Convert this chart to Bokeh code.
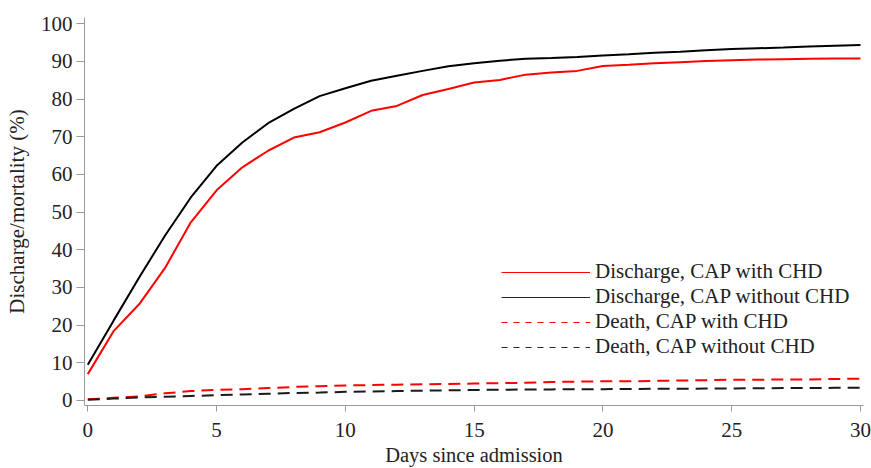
from bokeh.plotting import figure
from bokeh.models import FixedTicker, Legend, LegendItem, Range1d
from bokeh.embed import file_html
from bokeh.resources import INLINE

days = list(range(31))
discharge_chd = [7.0, 18.4, 25.6, 35.2, 47.3, 55.8, 61.9, 66.3, 69.8, 71.2, 73.8,
                 76.9, 78.2, 81.1, 82.7, 84.4, 85.1, 86.5, 87.1, 87.5, 88.8,
                 89.1, 89.5, 89.8, 90.1, 90.3, 90.5, 90.6, 90.7, 90.8, 90.8]
discharge_no_chd = [9.5, 21.2, 32.7, 43.8, 53.9, 62.3, 68.5, 73.6, 77.4, 80.8, 82.9,
                    84.9, 86.2, 87.5, 88.7, 89.5, 90.2, 90.7, 90.9, 91.2, 91.6,
                    91.9, 92.3, 92.6, 93.0, 93.3, 93.5, 93.7, 94.0, 94.2, 94.4]
death_chd = [0.3, 0.7, 1.1, 1.9, 2.5, 2.8, 3.0, 3.3, 3.6, 3.8, 4.0,
             4.1, 4.2, 4.3, 4.4, 4.5, 4.6, 4.7, 4.9, 5.0, 5.1,
             5.1, 5.2, 5.3, 5.4, 5.5, 5.5, 5.6, 5.6, 5.7, 5.8]
death_no_chd = [0.2, 0.5, 0.8, 1.0, 1.2, 1.4, 1.6, 1.8, 2.0, 2.1, 2.3,
                2.4, 2.5, 2.6, 2.7, 2.8, 2.85, 2.9, 2.95, 3.0, 3.0,
                3.05, 3.1, 3.1, 3.15, 3.2, 3.25, 3.3, 3.3, 3.35, 3.4]
legend_labels = ["Discharge, CAP with CHD", "Discharge, CAP without CHD",
                 "Death, CAP with CHD", "Death, CAP without CHD"]
x_ticks = [0, 5, 10, 15, 20, 25, 30]
y_ticks = [0, 10, 20, 30, 40, 50, 60, 70, 80, 90, 100]
x_title = "Days since admission"
y_title = "Discharge/mortality (%)"

FONT = "Liberation Serif"
TXT = "#222222"
RED = "#ff0000"
BLK = "#000000"

p = figure(width=871, height=468, output_backend="svg", toolbar_location=None,
           x_range=Range1d(-0.128, 30.116), y_range=Range1d(-1.33, 101.67),
           min_border_left=84, min_border_right=8, min_border_top=17,
           min_border_bottom=63)
p.outline_line_color = None
p.grid.visible = False
p.background_fill_color = "white"

for ax in (p.xaxis[0], p.yaxis[0]):
    ax.axis_line_color = "#9a9a9a"
    ax.major_tick_line_color = "#9a9a9a"
    ax.minor_tick_line_color = None
    ax.major_tick_in = 0
    ax.major_label_text_font = FONT
    ax.major_label_text_font_size = "21px"
    ax.major_label_text_color = TXT
    ax.axis_label_text_font = FONT
    ax.axis_label_text_font_size = "21px"
    ax.axis_label_text_font_style = "normal"
    ax.axis_label_text_color = TXT

p.xaxis.ticker = FixedTicker(ticks=x_ticks)
p.yaxis.ticker = FixedTicker(ticks=y_ticks)
p.xaxis.axis_label = x_title
p.yaxis.axis_label = y_title
p.xaxis.axis_label_text_font_size = "20.5px"
p.xaxis.major_tick_out = 6
p.xaxis.major_label_standoff = 11
p.xaxis.axis_label_standoff = 4
p.yaxis.major_tick_out = 8
p.yaxis.major_label_standoff = 4
p.yaxis.axis_label_standoff = 9

p.line(days, death_chd, line_color=RED, line_width=2, line_dash="12 7")
p.line(days, death_no_chd, line_color="#1a1a1a", line_width=2, line_dash="12 7")
p.line(days, discharge_chd, line_color=RED, line_width=2)
p.line(days, discharge_no_chd, line_color=BLK, line_width=2)

# thin, hidden proxies for the legend glyphs
g1 = p.line(days, discharge_chd, line_color=RED, line_width=1, visible=False)
g2 = p.line(days, discharge_no_chd, line_color=BLK, line_width=1, line_alpha=0.85, visible=False)
g3 = p.line(days, death_chd, line_color=RED, line_width=1, line_dash="6 6", visible=False)
g4 = p.line(days, death_no_chd, line_color=BLK, line_width=1, line_alpha=0.85, line_dash="6 6", visible=False)

legend = Legend(items=[LegendItem(label=legend_labels[0], renderers=[g1]),
                       LegendItem(label=legend_labels[1], renderers=[g2]),
                       LegendItem(label=legend_labels[2], renderers=[g3]),
                       LegendItem(label=legend_labels[3], renderers=[g4])],
                location=(417, 46), border_line_color=None,
                background_fill_alpha=0, padding=0, margin=0, spacing=0,
                glyph_width=89, glyph_height=20, label_height=20,
                label_standoff=5, label_text_font=FONT,
                label_text_font_size="21px", label_text_color=TXT)
p.add_layout(legend)

open("out.html", "w").write(file_html(p, INLINE))
